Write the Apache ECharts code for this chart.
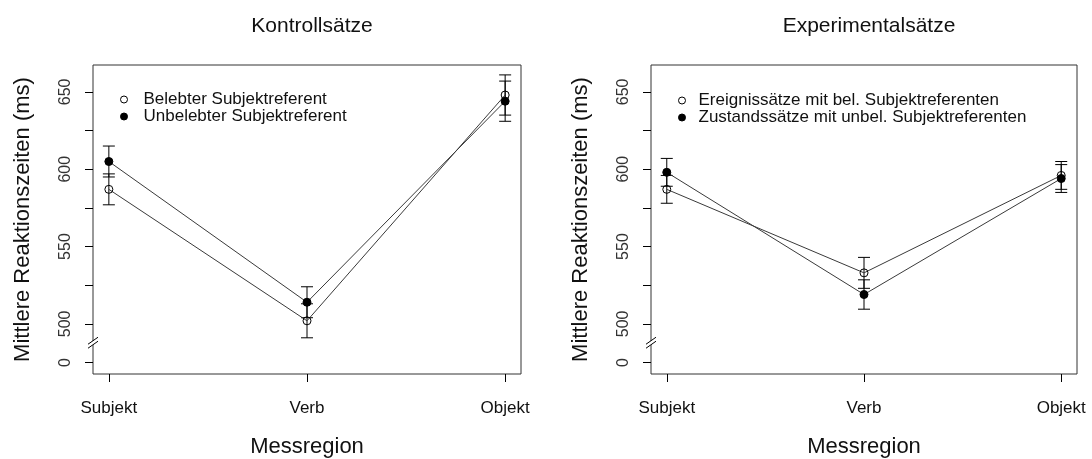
<!DOCTYPE html>
<html>
<head>
<meta charset="utf-8">
<script src="https://cdn.jsdelivr.net/npm/echarts@6/dist/echarts.min.js"></script>
<style>
  html, body { margin: 0; padding: 0; background: #fff; }
  #chart { width: 1092px; height: 459px; }
</style>
</head>
<body>
<div id="chart"></div>
<script>
// Regions along the x axis
const categories = ['Subjekt', 'Verb', 'Objekt'];

// Control sentences: mean reaction times and error half-widths (ms)
const kontrollBelebt = [587, 502, 648];
const kontrollBelebtErr = [10, 11, 13];
const kontrollUnbelebt = [605, 514, 644];
const kontrollUnbelebtErr = [10, 10, 13];

// Experimental sentences
const expEreignis = [587, 533, 596];
const expEreignisErr = [9, 10, 9];
const expZustand = [598, 519, 594];
const expZustandErr = [9, 9.5, 9];

// Y axis: broken axis, the lowest tick stands for 0
const yTickValues = [475, 500, 525, 550, 575, 600, 625, 650];
const yLabelValues = [475, 500, 550, 600, 650];
const yLabelTexts = ['0', '500', '550', '600', '650'];
const yBreakValue = 487.5;

const panelTitles = ['Kontrollsätze', 'Experimentalsätze'];
const legendNames = [
  ['Belebter Subjektreferent', 'Unbelebter Subjektreferent'],
  ['Ereignissätze mit bel. Subjektreferenten', 'Zustandssätze mit unbel. Subjektreferenten']
];
const xTitle = 'Messregion';
const yTitle = 'Mittlere Reaktionszeiten (ms)';

const FONT = '"Liberation Sans", Arial, sans-serif';
const INK = '#111';

const grids = [
  { left: 93, top: 65, width: 428, height: 309 },
  { left: 651, top: 65, width: 426, height: 309 }
];

function pts(vals) { return vals.map((v, i) => [i + 1, v]); }
function bars(vals, errs) { return vals.map((v, i) => [i + 1, v - errs[i], v + errs[i]]); }

function errorSeries(vals, errs, idx) {
  return {
    type: 'custom',
    xAxisIndex: idx, yAxisIndex: idx,
    silent: true,
    z: 2,
    data: bars(vals, errs),
    renderItem: function (params, api) {
      const lo = api.coord([api.value(0), api.value(1)]);
      const hi = api.coord([api.value(0), api.value(2)]);
      const w = 6;
      const st = { stroke: '#000', lineWidth: 1 };
      return {
        type: 'group',
        children: [
          { type: 'line', shape: { x1: lo[0], y1: lo[1], x2: hi[0], y2: hi[1] }, style: st },
          { type: 'line', shape: { x1: lo[0] - w, y1: lo[1], x2: lo[0] + w, y2: lo[1] }, style: st },
          { type: 'line', shape: { x1: hi[0] - w, y1: hi[1], x2: hi[0] + w, y2: hi[1] }, style: st }
        ]
      };
    }
  };
}

function lineSeries(name, vals, idx, filled) {
  return {
    type: 'line',
    name: name,
    xAxisIndex: idx, yAxisIndex: idx,
    data: pts(vals),
    symbol: 'circle',
    symbolSize: 8,
    z: 3,
    lineStyle: { color: '#3a3a3a', width: 1 },
    itemStyle: filled
      ? { color: '#000', borderColor: '#000', borderWidth: 1 }
      : { color: 'rgba(0,0,0,0)', borderColor: '#000', borderWidth: 1 },
    emphasis: { disabled: true },
    animation: false
  };
}

const xAxes = grids.map((g, i) => ({
  type: 'value', gridIndex: i,
  min: 0.92, max: 3.08,
  splitLine: { show: false },
  axisLine: { show: false },
  axisTick: { show: true, inside: false, length: 8, customValues: [1, 2, 3], lineStyle: { color: '#000' } },
  axisLabel: {
    customValues: [1, 2, 3], margin: 26,
    formatter: v => categories[Math.round(v) - 1],
    fontFamily: FONT, fontSize: 17, color: INK
  },
  name: xTitle, nameLocation: 'middle', nameGap: 62,
  nameTextStyle: { fontFamily: FONT, fontSize: 22, color: INK }
}));

const yAxes = grids.map((g, i) => ({
  type: 'value', gridIndex: i,
  min: 467.6, max: 667.4,
  splitLine: { show: false },
  axisLine: { show: false },
  axisTick: { show: true, inside: false, length: 8, customValues: yTickValues, lineStyle: { color: '#000' } },
  axisLabel: {
    customValues: yLabelValues, rotate: 90, margin: 19,
    formatter: v => yLabelTexts[yLabelValues.indexOf(v)],
    fontFamily: FONT, fontSize: 16, color: '#333'
  },
  name: yTitle, nameLocation: 'middle', nameGap: 59,
  nameTextStyle: { fontFamily: FONT, fontSize: 22, color: INK }
}));

const legends = [
  { left: 115, top: 86, textPad: 11 },
  { left: 673, top: 87, textPad: 8 }
].map((l, i) => ({
  orient: 'vertical', left: l.left, top: l.top,
  itemWidth: 7, itemHeight: 7, itemGap: 0,
  selectedMode: false,
  textStyle: { fontFamily: FONT, fontSize: 17, color: INK, lineHeight: 17, padding: [0, 0, 0, l.textPad] },
  data: [
    { name: legendNames[i][0], icon: 'circle', itemStyle: { color: 'rgba(0,0,0,0)', borderColor: '#000', borderWidth: 1 } },
    { name: legendNames[i][1], icon: 'circle', itemStyle: { color: '#000', borderColor: '#000', borderWidth: 1 } }
  ]
}));

const option = {
  animation: false,
  backgroundColor: '#fff',
  title: panelTitles.map((t, i) => ({
    text: t, left: grids[i].left + grids[i].width / 2, top: 11, textAlign: 'center',
    textStyle: { fontFamily: FONT, fontSize: 21, fontWeight: 'normal', color: INK }
  })),
  grid: grids.map(g => Object.assign({
    show: true, borderColor: '#333', borderWidth: 1, backgroundColor: 'transparent',
    containLabel: false, outerBoundsMode: 'none'
  }, g)),
  xAxis: xAxes,
  yAxis: yAxes,
  legend: legends,
  series: [
    errorSeries(kontrollBelebt, kontrollBelebtErr, 0),
    errorSeries(kontrollUnbelebt, kontrollUnbelebtErr, 0),
    lineSeries(legendNames[0][0], kontrollBelebt, 0, false),
    lineSeries(legendNames[0][1], kontrollUnbelebt, 0, true),
    errorSeries(expEreignis, expEreignisErr, 1),
    errorSeries(expZustand, expZustandErr, 1),
    lineSeries(legendNames[1][0], expEreignis, 1, false),
    lineSeries(legendNames[1][1], expZustand, 1, true)
  ]
};

const chart = echarts.init(document.getElementById('chart'), null, { renderer: 'canvas' });
chart.setOption(option);

// Axis-break marks on both y axes, placed through the axis scale
const breaks = [];
for (let i = 0; i < grids.length; i++) {
  const p = chart.convertToPixel({ xAxisIndex: i, yAxisIndex: i }, [0.92, yBreakValue]);
  const x = p[0], y = p[1];
  breaks.push(
    { type: 'polygon', shape: { points: [[x - 5, y + 1], [x + 5, y - 6], [x + 5, y - 2], [x - 5, y + 5]] },
      style: { fill: '#fff' }, z: 100 },
    { type: 'line', shape: { x1: x - 5, y1: y + 1, x2: x + 5, y2: y - 6 }, style: { stroke: '#000', lineWidth: 1 }, z: 101 },
    { type: 'line', shape: { x1: x - 5, y1: y + 5, x2: x + 5, y2: y - 2 }, style: { stroke: '#000', lineWidth: 1 }, z: 101 }
  );
}
chart.setOption({ graphic: breaks });
</script>
</body>
</html>
